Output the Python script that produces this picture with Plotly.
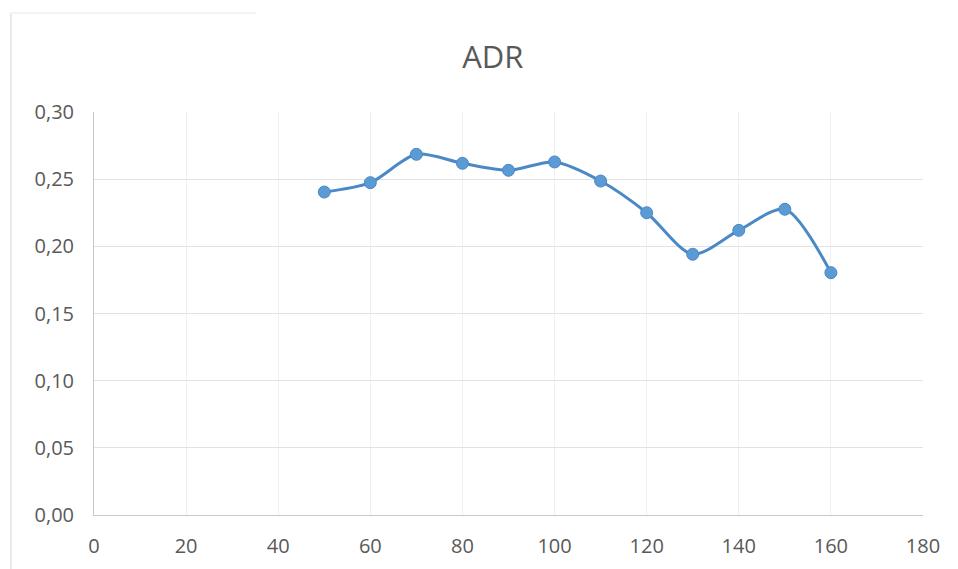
import plotly.graph_objects as go

x_values = [50, 60, 70, 80, 90, 100, 110, 120, 130, 140, 150, 160]
adr_values = [0.2404, 0.2474, 0.2685, 0.2618, 0.2566, 0.2628, 0.2486, 0.2250, 0.1941, 0.2119, 0.2276, 0.1804]
y_tickvals = [0.00, 0.05, 0.10, 0.15, 0.20, 0.25, 0.30]
y_ticktext = ["0,00", "0,05", "0,10", "0,15", "0,20", "0,25", "0,30"]
x_tickvals = [0, 20, 40, 60, 80, 100, 120, 140, 160, 180]

L, R, T, B = 86, 43, 104, 62
PW, PH = 958 - L - R, 569 - T - B
bottom = 569 - B

def px(fx):
    return (fx - L) / PW

def py(fy):
    return (bottom - fy) / PH

fig = go.Figure()
fig.add_trace(go.Scatter(
    x=x_values, y=adr_values, mode="lines+markers",
    line=dict(color="#4A88C6", width=3, shape="spline", smoothing=0.8),
    marker=dict(color="#5B9BD5", size=12, line=dict(color="#4A88C6", width=1)),
    showlegend=False,
))

fig.update_layout(
    width=958, height=569,
    margin=dict(l=L, r=R, t=T, b=B),
    paper_bgcolor="white", plot_bgcolor="white",
    font=dict(family="Open Sans", color="#595959", size=20),
    title=dict(text="ADR", x=0.506, xref="container", xanchor="center",
               y=0.9139, yref="container", yanchor="middle",
               font=dict(family="Open Sans", size=31, color="#595959")),
    xaxis=dict(range=[0, 180], tickvals=x_tickvals, showgrid=True, gridcolor="#F0F0F0",
               zeroline=False, showline=True, linecolor="#C8C8C8", linewidth=1,
               ticks="", ticklabelstandoff=13, fixedrange=True),
    yaxis=dict(range=[0, 0.30], tickvals=y_tickvals, ticktext=y_ticktext, showgrid=True,
               gridcolor="#E2E2E2", zeroline=False, showline=True, linecolor="#C8C8C8",
               linewidth=1, ticks="", ticklabelstandoff=15, fixedrange=True),
    shapes=[
        dict(type="line", xref="paper", yref="paper", x0=px(3), x1=px(3), y0=py(562), y1=py(5),
             line=dict(color="#E3E3E3", width=1.5), layer="below"),
        dict(type="line", xref="paper", yref="paper", x0=px(3), x1=px(248), y0=py(5), y1=py(5),
             line=dict(color="#EFEFEF", width=1.5), layer="below"),
    ],
)

fig.write_html("out.html")
